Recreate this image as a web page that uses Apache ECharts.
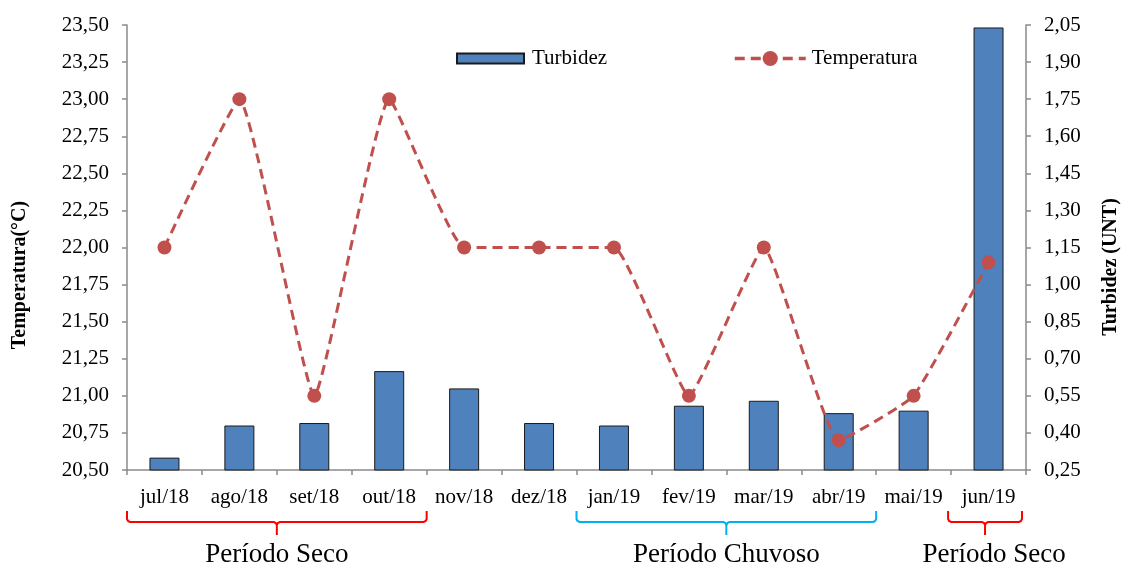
<!DOCTYPE html>
<html>
<head>
<meta charset="utf-8">
<script src="https://cdn.jsdelivr.net/npm/echarts@6/dist/echarts.min.js"></script>
<style>
  html, body { margin: 0; padding: 0; background: #fff; }
  #chart { width: 1123px; height: 566px; }
</style>
</head>
<body>
<div id="chart"></div>
<script>
// Monthly sampling, Jul/2018 – Jun/2019
const meses = ['jul/18', 'ago/18', 'set/18', 'out/18', 'nov/18', 'dez/18',
               'jan/19', 'fev/19', 'mar/19', 'abr/19', 'mai/19', 'jun/19'];
// Water temperature (°C)
const temperatura = [22.00, 23.00, 21.00, 23.00, 22.00, 22.00, 22.00, 21.00, 22.00, 20.70, 21.00, 21.90];
// Turbidity (UNT)
const turbidez = [0.30, 0.43, 0.44, 0.65, 0.58, 0.44, 0.43, 0.51, 0.53, 0.48, 0.49, 2.04];

// Axis scales
const tempEixo = { min: 20.50, max: 23.50, passo: 0.25 };
const turbEixo = { min: 0.25, max: 2.05, passo: 0.15 };

// Seasonal periods: first and last month index, label, colour,
// optional brace trims (left/right, px) and label shift
const periodos = [
  { de: 0, ate: 3, nome: 'Período Seco', cor: '#FF0000' },
  { de: 6, ate: 9, nome: 'Período Chuvoso', cor: '#00B0F0' },
  { de: 11, ate: 11, nome: 'Período Seco', cor: '#FF0000', recuoE: -3, recuoD: 4, dx: 9 }
];

const FONTE = '"Liberation Serif", "Times New Roman", serif';
const CINZA = '#8a8a8a';
const virgula = v => (Math.round(v * 100) / 100).toFixed(2).replace('.', ',');

const chart = echarts.init(document.getElementById('chart'), null, { renderer: 'canvas' });

const eixoY = (cfg, pos) => ({
  type: 'value',
  position: pos,
  min: cfg.min,
  max: cfg.max,
  interval: cfg.passo,
  splitLine: { show: false },
  axisLine: { show: true, lineStyle: { color: CINZA, width: 1.5 } },
  axisTick: { show: true, length: 5, lineStyle: { color: CINZA, width: 1.5 } },
  axisLabel: { color: '#000', fontFamily: FONTE, fontSize: 21, margin: 18, formatter: virgula }
});

chart.setOption({
  animation: false,
  backgroundColor: '#fff',
  textStyle: { fontFamily: FONTE },
  grid: { left: 127, right: 97, top: 25, bottom: 96, containLabel: false, outerBoundsMode: 'none' },
  legend: [
    {
      data: [{ name: 'Turbidez', icon: 'rect' }],
      left: 456, top: 48, padding: 0,
      itemWidth: 67, itemHeight: 10, itemGap: 0,
      textStyle: { fontFamily: FONTE, fontSize: 21, color: '#000', padding: [0, 0, 0, 3] }
    },
    {
      data: ['Temperatura'],
      left: 733, top: 48, padding: 0,
      itemWidth: 71, itemHeight: 19, itemGap: 0,
      lineStyle: { width: 3.5, type: [10, 6] },
      textStyle: { fontFamily: FONTE, fontSize: 21, color: '#000', padding: [0, 0, 0, 1] }
    }
  ],
  xAxis: {
    type: 'category',
    data: meses,
    boundaryGap: true,
    axisLine: { show: true, lineStyle: { color: CINZA, width: 1.5 } },
    axisTick: { show: true, length: 5, alignWithLabel: false, lineStyle: { color: CINZA, width: 1.5 } },
    axisLabel: { color: '#000', fontFamily: FONTE, fontSize: 21, margin: 17, interval: 0 }
  },
  yAxis: [eixoY(tempEixo, 'left'), eixoY(turbEixo, 'right')],
  series: [
    {
      name: 'Turbidez',
      type: 'bar',
      yAxisIndex: 1,
      data: turbidez,
      barWidth: 30,
      itemStyle: { color: '#4F81BD', borderColor: '#1a1a1a', borderWidth: 1 },
      z: 1
    },
    {
      name: 'Temperatura',
      type: 'line',
      yAxisIndex: 0,
      data: temperatura,
      smooth: 0.12,
      symbol: 'circle',
      symbolSize: 14,
      lineStyle: { color: '#C0504D', width: 3, type: [10, 6] },
      itemStyle: { color: '#C0504D' },
      z: 3
    }
  ]
});

// Axis titles, period braces and period labels
function decoracoes() {
  const c0 = chart.convertToPixel({ xAxisIndex: 0 }, 0);
  const c1 = chart.convertToPixel({ xAxisIndex: 0 }, 1);
  const meia = (c1 - c0) / 2;
  const yTopo = 511, yBarra = 522, yPonta = 535, r = 3;
  const elems = [];

  periodos.forEach(p => {
    const x0 = chart.convertToPixel({ xAxisIndex: 0 }, p.de) - meia + (p.recuoE || 0);
    const x1 = chart.convertToPixel({ xAxisIndex: 0 }, p.ate) + meia - (p.recuoD || 0);
    const xc = (x0 + x1) / 2;
    elems.push({
      type: 'polyline',
      shape: { points: [
        [x0, yTopo], [x0, yBarra - r], [x0 + 1, yBarra - 1], [x0 + r, yBarra],
        [xc - r, yBarra], [xc - 1, yBarra + 1], [xc, yBarra + r], [xc, yPonta]
      ] },
      style: { fill: null, stroke: p.cor, lineWidth: 2 },
      silent: true
    });
    elems.push({
      type: 'polyline',
      shape: { points: [
        [xc, yBarra + r], [xc + 1, yBarra + 1], [xc + r, yBarra],
        [x1 - r, yBarra], [x1 - 1, yBarra - 1], [x1, yBarra - r], [x1, yTopo]
      ] },
      style: { fill: null, stroke: p.cor, lineWidth: 2 },
      silent: true
    });
    elems.push({
      type: 'text',
      x: xc + (p.dx || 0), y: 555,
      style: {
        text: p.nome, fill: '#000', font: '27px ' + FONTE,
        align: 'center', verticalAlign: 'middle'
      },
      silent: true
    });
  });

  elems.push({
    type: 'text', x: 20, y: 275, rotation: Math.PI / 2,
    style: { text: 'Temperatura(°C)', fill: '#000', font: 'bold 20px ' + FONTE,
             align: 'center', verticalAlign: 'middle' },
    silent: true
  });
  elems.push({
    type: 'text', x: 1111, y: 267, rotation: Math.PI / 2,
    style: { text: 'Turbidez (UNT)', fill: '#000', font: 'bold 20px ' + FONTE,
             align: 'center', verticalAlign: 'middle' },
    silent: true
  });

  chart.setOption({ graphic: elems });
}
decoracoes();
</script>
</body>
</html>
